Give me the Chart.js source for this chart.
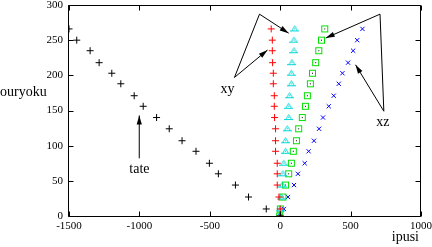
<!DOCTYPE html>
<html><head><meta charset="utf-8">
<script src="https://cdn.jsdelivr.net/npm/chart.js@4/dist/chart.umd.min.js"></script>
<style>html,body{margin:0;padding:0;background:#fff;overflow:hidden}canvas{display:block}</style>
</head><body>
<canvas id="c" width="432" height="247"></canvas>
<script>
// shared force values (ouryoku)
const ouryoku = [266, 250, 235, 218, 203, 188, 171, 156, 140, 124, 107, 92, 75, 60, 44, 27, 10, 0];
// strain values (ipusi) per series
const tateX  = [-1500, -1445, -1350, -1286, -1196, -1132, -1037, -973, -878, -788, -697, -598, -503, -439, -318, -225, -99, 0];
const xyRedX = [-64, -56, -56, -54, -49, -49, -42, -42, -40, -33, -33, -33, -21, -21, -21, -9, 0, 0];
const xyCyanX = [103, 98, 98, 83, 79, 79, 67, 60, 61, 50, 38, 38, 26, 19, 15, 8, 0, -4];
const xzGreenX = [316, 293, 274, 252, 229, 214, 193, 179, 157, 131, 115, 93, 79, 60, 38, 19, 1, -4];
const xzBlueX = [584, 547, 518, 482, 442, 416, 380, 345, 304, 276, 240, 202, 174, 126, 98, 55, 26, 1];
const xTicks = [-1500, -1000, -500, 0, 500, 1000];
const yTicks = [0, 50, 100, 150, 200, 250, 300];
// annotation labels / arrows (in data coordinates)
const annoLabels = [['tate', -1000, 66], ['xy', -374, 180], ['xz', 729, 133]];
const annoArrows = [
  [[-1001, 82], [-1001, 143]],
  [[-325, 197], [-147, 287], [60, 260]],
  [[-325, 197], [-90, 236]],
  [[736, 149], [709, 287], [323, 253]],
  [[736, 149], [535, 215]]
];

function mk(xs, ys) { return xs.map((x, i) => ({x: x, y: ys[i]})); }

function triStyle(col) {
  const c = document.createElement('canvas'); c.width = 9; c.height = 9;
  const g = c.getContext('2d');
  g.strokeStyle = col; g.lineWidth = 1;
  g.beginPath(); g.moveTo(0, 6.5); g.lineTo(9, 6.5);
  g.moveTo(1.5, 6.5); g.lineTo(4.5, 1.5); g.lineTo(7.5, 6.5); g.stroke();
  g.fillStyle = col; g.fillRect(4, 4, 1, 1);
  return c;
}
function sqStyle(col) {
  const c = document.createElement('canvas'); c.width = 9; c.height = 9;
  const g = c.getContext('2d');
  g.strokeStyle = col; g.lineWidth = 1;
  g.strokeRect(1.5, 1.5, 6, 6);
  g.fillStyle = '#000'; g.fillRect(4, 4, 1, 1);
  return c;
}

const SERIF = '"Liberation Serif", "DejaVu Serif", serif';

const framePlugin = {
  id: 'frame',
  afterDraw(chart) {
    const ctx = chart.ctx, a = chart.chartArea;
    const xs = chart.scales.x, ys = chart.scales.y;
    ctx.save();
    ctx.strokeStyle = '#000'; ctx.lineWidth = 1;
    const L = Math.round(a.left) - 0.5, R = Math.round(a.right) - 0.5;
    const T = Math.round(a.top) + 0.5, B = Math.round(a.bottom) + 0.5;
    ctx.beginPath(); ctx.rect(L, T, R - L, B - T); ctx.stroke();
    const tl = 5;
    ctx.beginPath();
    xTicks.forEach(v => {
      const px = Math.round(xs.getPixelForValue(v)) + 0.5;
      ctx.moveTo(px, B); ctx.lineTo(px, B - tl);
      ctx.moveTo(px, T); ctx.lineTo(px, T + tl);
    });
    yTicks.forEach(v => {
      const py = Math.round(ys.getPixelForValue(v)) + 0.5;
      ctx.moveTo(L, py); ctx.lineTo(L + tl, py);
      ctx.moveTo(R, py); ctx.lineTo(R - tl, py);
    });
    ctx.stroke();
    // axis titles
    ctx.fillStyle = '#000';
    ctx.font = '14px ' + SERIF;
    ctx.textBaseline = 'middle';
    ctx.textAlign = 'left';
    ctx.fillText('ouryoku', 0, 92);
    ctx.textAlign = 'right';
    ctx.fillText('ipusi', 419, 237);
    // annotations
    ctx.textAlign = 'center';
    annoLabels.forEach(([t, x, y]) => {
      ctx.fillText(t, xs.getPixelForValue(x), ys.getPixelForValue(y));
    });
    annoArrows.forEach(pts => {
      const p = pts.map(([x, y]) => [xs.getPixelForValue(x), ys.getPixelForValue(y)]);
      ctx.beginPath();
      ctx.moveTo(p[0][0], p[0][1]);
      for (let i = 1; i < p.length; i++) ctx.lineTo(p[i][0], p[i][1]);
      ctx.stroke();
      const [x1, y1] = p[p.length - 2], [x2, y2] = p[p.length - 1];
      const ang = Math.atan2(y2 - y1, x2 - x1), len = 9, hw = 2.6;
      const bx = x2 - len * Math.cos(ang), by = y2 - len * Math.sin(ang);
      ctx.beginPath();
      ctx.moveTo(x2, y2);
      ctx.lineTo(bx + hw * Math.sin(ang), by - hw * Math.cos(ang));
      ctx.lineTo(bx - hw * Math.sin(ang), by + hw * Math.cos(ang));
      ctx.closePath(); ctx.fill();
    });
    ctx.restore();
  }
};

new Chart(document.getElementById('c'), {
  type: 'scatter',
  data: {
    datasets: [
      {label: 'tate', data: mk(tateX, ouryoku), pointStyle: 'cross', radius: 3.5, borderColor: '#000', borderWidth: 1},
      {label: 'xy1', data: mk(xyRedX, ouryoku), pointStyle: 'cross', radius: 3.5, borderColor: '#ff0000', borderWidth: 1},
      {label: 'xy2', data: mk(xyCyanX, ouryoku), pointStyle: triStyle('#00d8d8'), radius: 4, borderWidth: 0},
      {label: 'xz1', data: mk(xzGreenX, ouryoku), pointStyle: sqStyle('#00e000'), radius: 4, borderWidth: 0},
      {label: 'xz2', data: mk(xzBlueX, ouryoku), pointStyle: 'crossRot', radius: 3, borderColor: '#0000ff', borderWidth: 1}
    ]
  },
  options: {
    responsive: false, animation: false, devicePixelRatio: 1,
    layout: {padding: {top: 4, right: 11, left: 0, bottom: 0}},
    plugins: {legend: {display: false}, tooltip: {enabled: false}},
    scales: {
      x: {
        type: 'linear', min: -1500, max: 1000,
        afterBuildTicks: s => { s.ticks = xTicks.map(v => ({value: v})); },
        ticks: {callback: v => String(v), color: '#000', font: {family: SERIF, size: 11}, padding: 4, maxRotation: 0, autoSkip: false},
        grid: {display: false, drawTicks: false, tickLength: 0},
        border: {display: false},
        afterFit: s => { s.height = 31; s.paddingLeft = 0; s.paddingRight = 0; s.paddingTop = 0; s.paddingBottom = 0; }
      },
      y: {
        type: 'linear', min: 0, max: 300,
        afterBuildTicks: s => { s.ticks = yTicks.map(v => ({value: v})); },
        ticks: {callback: v => String(v), color: '#000', font: {family: SERIF, size: 11}, padding: 6, autoSkip: false},
        grid: {display: false, drawTicks: false, tickLength: 0},
        border: {display: false},
        afterFit: s => { s.width = 69; s.paddingLeft = 0; s.paddingRight = 0; s.paddingTop = 0; s.paddingBottom = 0; }
      }
    }
  },
  plugins: [framePlugin]
});
</script>
</body></html>
